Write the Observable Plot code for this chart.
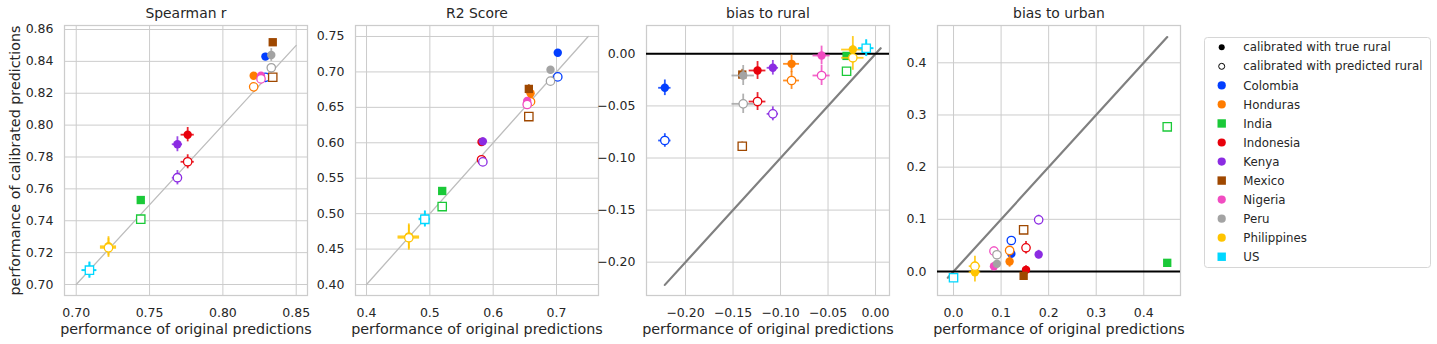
<!DOCTYPE html>
<html>
<head>
<meta charset="utf-8">
<script src="https://cdn.jsdelivr.net/npm/d3@7"></script>
<script src="https://cdn.jsdelivr.net/npm/@observablehq/plot@0.6"></script>
<style>
  html, body { margin: 0; padding: 0; background: #fff; }
  #chart { position: relative; width: 1437px; height: 344px; overflow: hidden; font-family: "DejaVu Sans", sans-serif; }
  .panel { position: absolute; top: 0; }
  .panel svg { overflow: visible; }
</style>
</head>
<body>
<div id="chart"></div>
<script>
// ---- categories & styling per country ----
const countries = ["Colombia","Honduras","India","Indonesia","Kenya","Mexico","Nigeria","Peru","Philippines","US"];
const colors    = ["#023eff","#ff7c00","#1ac938","#e8000b","#8b2be2","#9f4800","#f14cc1","#a3a3a3","#ffc400","#00d7ff"];
const shapes    = ["circle","circle","square","circle","circle","square","circle","circle","circle","square"];

// ---- Spearman r ----
const spearmanX        = [0.829, 0.821, 0.744, 0.776, 0.769, 0.834, 0.826, 0.833, 0.722, 0.709];
const spearmanTrueY    = [0.843, 0.831, 0.753, 0.794, 0.788, 0.852, 0.831, 0.844, 0.724, 0.709];
const spearmanPredY    = [0.830, 0.824, 0.741, 0.777, 0.767, 0.830, 0.829, 0.836, 0.723, 0.709];
const spearmanXErr     = [0.002, 0.002, 0.001, 0.0045, 0.0035, 0.001, 0.002, 0.002, 0.0055, 0.005];
const spearmanTrueYErr = [0.002, 0.002, 0.001, 0.0045, 0.0047, 0.001, 0.002, 0.004, 0.006, 0.005];
const spearmanPredYErr = [0.002, 0.002, 0.001, 0.0044, 0.0045, 0.001, 0.002, 0.002, 0.006, 0.005];

// ---- R2 Score ----
const r2X        = [0.702, 0.659, 0.5195, 0.5816, 0.5837, 0.6563, 0.6537, 0.6905, 0.4668, 0.4921];
const r2TrueY    = [0.727, 0.670, 0.532, 0.601, 0.602, 0.676, 0.659, 0.703, 0.468, 0.493];
const r2PredY    = [0.693, 0.658, 0.510, 0.576, 0.573, 0.637, 0.654, 0.687, 0.466, 0.492];
const r2XErr     = [0.003, 0.004, 0.002, 0.003, 0.004, 0.003, 0.003, 0.003, 0.017, 0.009];
const r2TrueYErr = [0.003, 0.005, 0.002, 0.004, 0.005, 0.006, 0.003, 0.003, 0.0175, 0.011];
const r2PredYErr = [0.003, 0.004, 0.002, 0.004, 0.004, 0.003, 0.003, 0.003, 0.0175, 0.011];

// ---- bias to rural ----
const ruralX        = [-0.2218, -0.0884, -0.0305, -0.1242, -0.1081, -0.1403, -0.0568, -0.1393, -0.0239, -0.0098];
const ruralTrueY    = [-0.0326, -0.0096, -0.002, -0.016, -0.0134, -0.0199, -0.0016, -0.0208, 0.0041, 0.0054];
const ruralPredY    = [-0.0832, -0.0256, -0.0167, -0.0458, -0.0576, -0.0887, -0.0208, -0.048, -0.0038, 0.0054];
const ruralXErr     = [0.0065, 0.0084, 0.002, 0.0088, 0.006, 0.004, 0.009, 0.0118, 0.0118, 0.008];
const ruralTrueYErr = [0.0075, 0.0085, 0.002, 0.0086, 0.007, 0.005, 0.009, 0.0096, 0.0125, 0.008];
const ruralPredYErr = [0.0065, 0.0086, 0.001, 0.0086, 0.0067, 0.004, 0.0096, 0.0093, 0.012, 0.008];

// ---- bias to urban ----
const urbanX        = [0.1215, 0.1179, 0.4493, 0.1524, 0.179, 0.1474, 0.085, 0.0913, 0.045, 0.0];
const urbanTrueY    = [0.0339, 0.0192, 0.0166, 0.0032, 0.0326, -0.0083, 0.0102, 0.0147, -0.0013, -0.012];
const urbanPredY    = [0.0594, 0.0403, 0.2773, 0.0454, 0.099, 0.0799, 0.039, 0.032, 0.0102, -0.012];
const urbanXErr     = [0.004, 0.005, 0.002, 0.006, 0.006, 0.002, 0.005, 0.004, 0.012, 0.003];
const urbanTrueYErr = [0.006, 0.011, 0.002, 0.008, 0.008, 0.002, 0.006, 0.006, 0.019, 0.005];
const urbanPredYErr = [0.006, 0.008, 0.002, 0.012, 0.009, 0.002, 0.008, 0.008, 0.019, 0.005];

// ---- tick labels & scale limits ----
const spearmanXTicks = [0.70, 0.75, 0.80, 0.85];
const spearmanYTicks = [0.70, 0.72, 0.74, 0.76, 0.78, 0.80, 0.82, 0.84, 0.86];
const r2XTicks = [0.4, 0.5, 0.6, 0.7];
const r2YTicks = [0.40, 0.45, 0.50, 0.55, 0.60, 0.65, 0.70, 0.75];
const ruralXTicks = [-0.20, -0.15, -0.10, -0.05, 0.00];
const ruralYTicks = [-0.20, -0.15, -0.10, -0.05, 0.00];
const urbanXTicks = [0.0, 0.1, 0.2, 0.3, 0.4];
const urbanYTicks = [0.0, 0.1, 0.2, 0.3, 0.4];

const titles = ["Spearman r", "R2 Score", "bias to rural", "bias to urban"];
const xLabel = "performance of original predictions";
const yLabel = "performance of calibrated predictions";
const legendMethods = ["calibrated with true rural", "calibrated with predicted rural"];

// ---- build panels ----
function rowsFor(X, TY, PY, XE, TYE, PYE) {
  const rows = [];
  countries.forEach((c, i) => {
    rows.push({country: c, kind: "true", x: X[i], y: TY[i], xerr: XE[i], yerr: TYE[i], color: colors[i], shape: shapes[i]});
    rows.push({country: c, kind: "pred", x: X[i], y: PY[i], xerr: XE[i], yerr: PYE[i], color: colors[i], shape: shapes[i]});
  });
  return rows;
}

const panels = [
  {title: titles[0], rows: rowsFor(spearmanX, spearmanTrueY, spearmanPredY, spearmanXErr, spearmanTrueYErr, spearmanPredYErr),
   xd: [0.692, 0.8577], yd: [0.6931, 0.8625], xt: spearmanXTicks, yt: spearmanYTicks, xf: ".2f", yf: ".2f",
   diag: [0.70, 0.85], diagStroke: "#bdbdbd", diagWidth: 1.3, zero: false, frameLeft: 64, ylab: true},
  {title: titles[1], rows: rowsFor(r2X, r2TrueY, r2PredY, r2XErr, r2TrueYErr, r2PredYErr),
   xd: [0.3826, 0.7663], yd: [0.3845, 0.7655], xt: r2XTicks, yt: r2YTicks, xf: ".1f", yf: ".2f",
   diag: [0.40, 0.75], diagStroke: "#bdbdbd", diagWidth: 1.3, zero: false, frameLeft: 355, ylab: false},
  {title: titles[2], rows: rowsFor(ruralX, ruralTrueY, ruralPredY, ruralXErr, ruralTrueYErr, ruralPredYErr),
   xd: [-0.2411, 0.0147], yd: [-0.232, 0.0272], xt: ruralXTicks, yt: ruralYTicks, xf: ".2f", yf: ".2f",
   diag: null, diagStroke: "#808080", diagWidth: 2.2, zero: true, frameLeft: 646, ylab: false},
  {title: titles[3], rows: rowsFor(urbanX, urbanTrueY, urbanPredY, urbanXErr, urbanTrueYErr, urbanPredYErr),
   xd: [-0.0337, 0.4772], yd: [-0.046, 0.4715], xt: urbanXTicks, yt: urbanYTicks, xf: ".1f", yf: ".1f",
   diag: null, diagStroke: "#808080", diagWidth: 2.2, zero: true, frameLeft: 937, ylab: false}
];

const chart = document.getElementById("chart");
const ML = 70, MR = 15, INNER = 243;

panels.forEach(p => {
  let diag = p.diag;
  if (!diag) {
    const all = p.rows.flatMap(d => [d.x, d.y]);
    diag = [d3.min(all), d3.max(all)];
  }
  const pointMarks = p.rows.flatMap(d => [
    Plot.ruleY([d], {y: "y", x1: r => r.x - r.xerr, x2: r => r.x + r.xerr, stroke: d.color, strokeWidth: 1.8, strokeOpacity: 0.85}),
    Plot.ruleX([d], {x: "x", y1: r => r.y - r.yerr, y2: r => r.y + r.yerr, stroke: d.color, strokeWidth: 1.8, strokeOpacity: 0.85}),
    Plot.dot([d], {x: "x", y: "y", symbol: d.shape, r: d.shape === "square" ? 4.7 : 4.2,
      fill: d.kind === "true" ? d.color : "white",
      stroke: d.kind === "true" ? "none" : d.color,
      strokeWidth: 1.3})
  ]);
  const marks = [
    Plot.gridX(p.xt, {stroke: "#cccccc", strokeOpacity: 1, strokeWidth: 1}),
    Plot.gridY(p.yt, {stroke: "#cccccc", strokeOpacity: 1, strokeWidth: 1}),
    Plot.frame({stroke: "#cccccc", strokeWidth: 1.25}),
    Plot.axisX(p.xt, {tickSize: 0, tickPadding: 13, tickFormat: d3.format(p.xf), label: null, fontSize: 12.5, fill: "#262626"}),
    Plot.axisY(p.yt, {tickSize: 0, tickPadding: 11, tickFormat: d3.format(p.yf), label: null, fontSize: 12.5, fill: "#262626"}),
    Plot.line(diag.map(v => ({v})), {x: "v", y: "v", stroke: p.diagStroke, strokeWidth: p.diagWidth}),
    ...(p.zero ? [Plot.ruleY([0], {stroke: "black", strokeWidth: 2})] : []),
    ...pointMarks,
    Plot.text([p.title], {frameAnchor: "top", dy: -12, fontSize: 13.9, fill: "#262626", lineAnchor: "middle", textAnchor: "middle"}),
    Plot.text([xLabel], {frameAnchor: "bottom", dy: 34, fontSize: 14.3, fill: "#262626", lineAnchor: "middle", textAnchor: "middle"}),
    ...(p.ylab ? [Plot.text([yLabel], {frameAnchor: "left", dx: -49.4, rotate: -90, fontSize: 14.3, fill: "#262626", lineAnchor: "middle", textAnchor: "middle"})] : [])
  ];
  const svg = Plot.plot({
    width: ML + INNER + MR, height: 344,
    marginLeft: ML, marginRight: MR, marginTop: 25, marginBottom: 49,
    x: {domain: p.xd}, y: {domain: p.yd},
    style: {background: "transparent", fontFamily: "DejaVu Sans, sans-serif", fontSize: "12.5px", color: "#262626", overflow: "visible"},
    marks
  });
  const wrap = document.createElement("div");
  wrap.className = "panel";
  wrap.style.left = (p.frameLeft - ML) + "px";
  wrap.appendChild(svg);
  chart.appendChild(wrap);
});

// ---- legend ----
const legendItems = [
  {label: legendMethods[0], color: "black", shape: "circle", fill: true, r: 3},
  {label: legendMethods[1], color: "black", shape: "circle", fill: false, r: 3},
  ...countries.map((c, i) => ({label: c, color: colors[i], shape: shapes[i], fill: true, r: 4.1}))
];
const lg = d3.select(chart).append("svg")
  .attr("width", 230).attr("height", 234)
  .style("position", "absolute").style("left", "1202px").style("top", "35px")
  .style("font-family", "DejaVu Sans, sans-serif");
lg.append("rect").attr("x", 2.5).attr("y", 2.5).attr("width", 226).attr("height", 230)
  .attr("rx", 3).attr("fill", "white").attr("stroke", "#d6d6d6").attr("stroke-width", 1);
legendItems.forEach((it, i) => {
  const cy = 12.3 + i * 19.04, cx = 19.7;
  if (it.shape === "square") {
    lg.append("rect").attr("x", cx - 4.2).attr("y", cy - 4.2).attr("width", 8.4).attr("height", 8.4).attr("fill", it.color);
  } else {
    lg.append("circle").attr("cx", cx).attr("cy", cy).attr("r", it.r)
      .attr("fill", it.fill ? it.color : "white").attr("stroke", it.fill ? "none" : it.color).attr("stroke-width", 1);
  }
  lg.append("text").attr("x", 41.3).attr("y", cy).attr("dy", "0.35em")
    .attr("font-size", 11.8).attr("fill", "#262626").text(it.label);
});
</script>
</body>
</html>
